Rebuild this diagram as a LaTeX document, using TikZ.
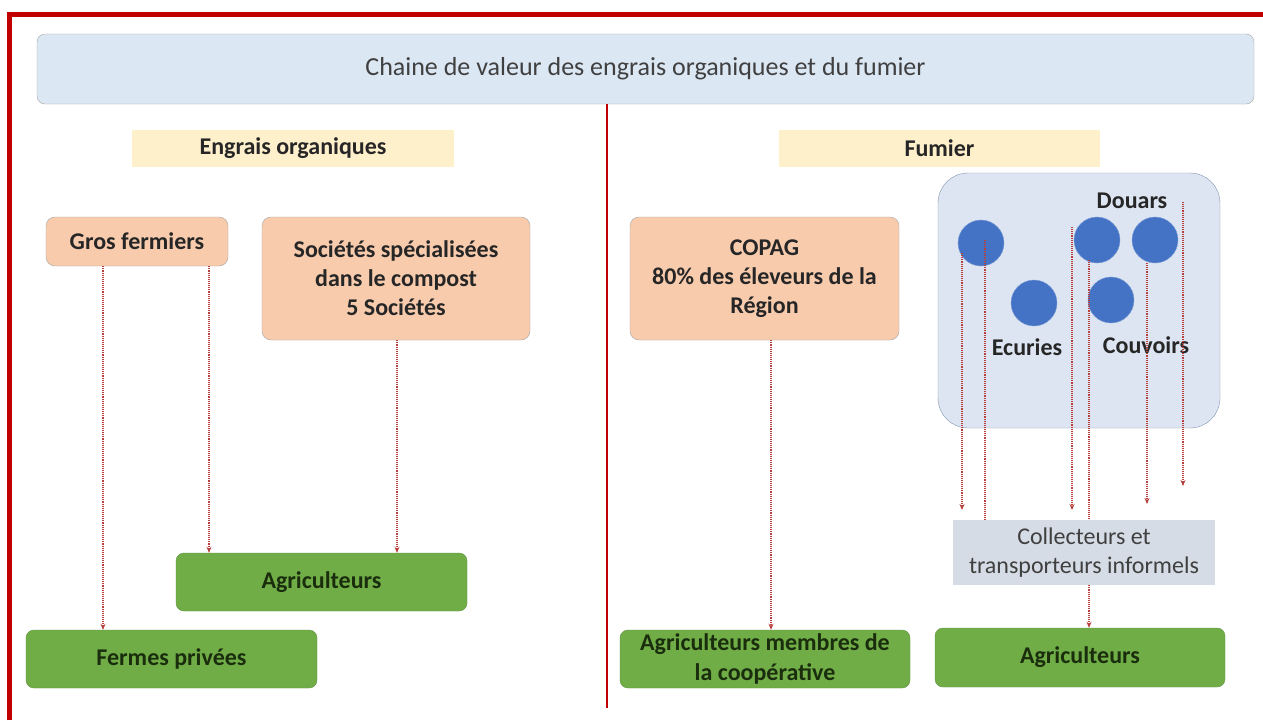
\documentclass[tikz,border=0pt]{standalone}
\usepackage{fontspec}
\setmainfont{Carlito}
\usetikzlibrary{arrows.meta}
\definecolor{framec}{HTML}{C00000}
\definecolor{titlefill}{HTML}{DCE7F4}
\definecolor{titledraw}{HTML}{A6A6A6}
\definecolor{textc}{HTML}{262626}
\definecolor{greytext}{HTML}{404040}
\definecolor{yellowc}{HTML}{FFF0CC}
\definecolor{peachc}{HTML}{F8CBAD}
\definecolor{greenc}{HTML}{70AD47}
\definecolor{greentext}{HTML}{1A2E0E}
\definecolor{contfill}{HTML}{DDE5F2}
\definecolor{contdraw}{HTML}{8497B0}
\definecolor{collfill}{HTML}{D6DCE5}
\definecolor{circc}{HTML}{4472C4}
\definecolor{arrc}{HTML}{B8403C}
\tikzset{
  headbox/.style={fill=yellowc, inner sep=0pt, font=\bfseries\fontsize{24}{29}\selectfont, text=textc},
  peachbox/.style={draw=titledraw, fill=peachc, rounded corners=9pt, inner sep=0pt, align=center, font=\bfseries\fontsize{24}{29}\selectfont, text=textc},
  greenbox/.style={draw=greenc!85!black, fill=greenc, rounded corners=8pt, inner sep=0pt, align=center, font=\bfseries\fontsize{24}{30}\selectfont, text=greentext},
  dot/.style={circle, fill=circc, draw=circc!70!white, minimum size=46pt, inner sep=0pt},
  lbl/.style={font=\bfseries\fontsize{24}{29}\selectfont, text=textc, inner sep=0pt},
  arr/.style={draw=arrc, densely dotted, line width=1.1pt, -{Stealth[length=6pt,width=5pt]}},
  lin/.style={draw=arrc, densely dotted, line width=1.1pt},
}
\begin{document}
\begin{tikzpicture}[x=1pt,y=-1pt]
\useasboundingbox (0,0) rectangle (1263,720);
\fill[white] (0,0) rectangle (1263,720);
% frame
\draw[framec, line width=5pt] (9.5,720) -- (9.5,14.5) -- (1263,14.5);
% title
\node[draw=titledraw, fill=titlefill, rounded corners=8pt, minimum width=1217pt, minimum height=70pt, inner sep=0pt,
      font=\fontsize{26}{30}\selectfont, text=greytext] (title) at (645.5,69) {Chaine de valeur des engrais organiques et du fumier};
% divider
\coordinate (divb) at (607,708);
\draw[framec, line width=2pt] (title.south -| divb) -- (divb);
% headers
\node[headbox, minimum width=322pt, minimum height=37pt] (hEO) at (293,148.5) {Engrais organiques};
\node[headbox, minimum width=321pt, minimum height=37pt] (hF) at (939.5,148.5) {Fumier};
% source boxes
\node[peachbox, minimum width=182pt, minimum height=49pt] (gf) at (137,241.5) {Gros fermiers};
\node[peachbox, minimum width=268pt, minimum height=123pt] (soc) at (396,278.5) {Sociétés spécialisées\\dans le compost\\5 Sociétés};
\node[peachbox, minimum width=269pt, minimum height=123pt] (copag) at (764.5,278.5) {COPAG\\80\% des éleveurs de la\\Région};
% container
\node[draw=contdraw, fill=contfill, rounded corners=30pt, minimum width=282pt, minimum height=255pt, inner sep=0pt] (cont) at (1079,300.5) {};
\node[dot] (c1) at (981,243) {};
\node[dot] (c2) at (1097,240) {};
\node[dot] (c3) at (1155,240) {};
\node[dot] (c4) at (1034,303) {};
\node[dot] (c5) at (1111,300) {};
\node[lbl] (douars) at (1132,201) {Douars};
\node[lbl] (ecuries) at (1027,347) {Ecuries};
\node[lbl] (couvoirs) at (1146,345) {Couvoirs};
% collector
\node[fill=collfill, minimum width=262pt, minimum height=65pt, inner sep=0pt, align=center,
      font=\fontsize{24}{29}\selectfont, text=greytext] (coll) at (1084,552.5) {Collecteurs et\\transporteurs informels};
% targets
\node[greenbox, minimum width=290pt, minimum height=59pt] (agR) at (1080,657.5) {Agriculteurs};
\node[greenbox, minimum width=290pt, minimum height=58pt] (agM) at (765,659) {Agriculteurs membres de\\la coopérative};
\node[greenbox, minimum width=291pt, minimum height=58pt] (agL) at (321.5,582) {Agriculteurs};
\node[greenbox, minimum width=291pt, minimum height=58pt] (fp) at (171.5,659) {Fermes privées};
% left connectors
\coordinate (x1) at (103,0);
\coordinate (x2) at (209,0);
\coordinate (x3) at (397,0);
\coordinate (x4) at (771,0);
\draw[arr] (gf.south -| x1) -- (fp.north -| x1);
\draw[arr] (gf.south -| x2) -- (agL.north -| x2);
\draw[arr] (soc.south -| x3) -- (agL.north -| x3);
\draw[arr] (copag.south -| x4) -- (agM.north -| x4);
% fumier connectors
\coordinate (s1) at (962,253);  \coordinate (e1) at (962,510);
\coordinate (s2) at (985,240);
\coordinate (s3) at (1072,227); \coordinate (e3) at (1072,510);
\coordinate (s4) at (1089,260);
\coordinate (s5) at (1147,263); \coordinate (e5) at (1147,504);
\coordinate (s6) at (1183,202); \coordinate (e6) at (1183,486);
\draw[arr] (s1) -- (e1);
\draw[lin] (s2) -- (s2 |- coll.north);
\draw[arr] (s3) -- (e3);
\draw[lin] (s4) -- (s4 |- coll.north);
\draw[arr] (s5) -- (e5);
\draw[arr] (s6) -- (e6);
\draw[arr] (coll.south -| s4) -- (agR.north -| s4);
\end{tikzpicture}
\end{document}
